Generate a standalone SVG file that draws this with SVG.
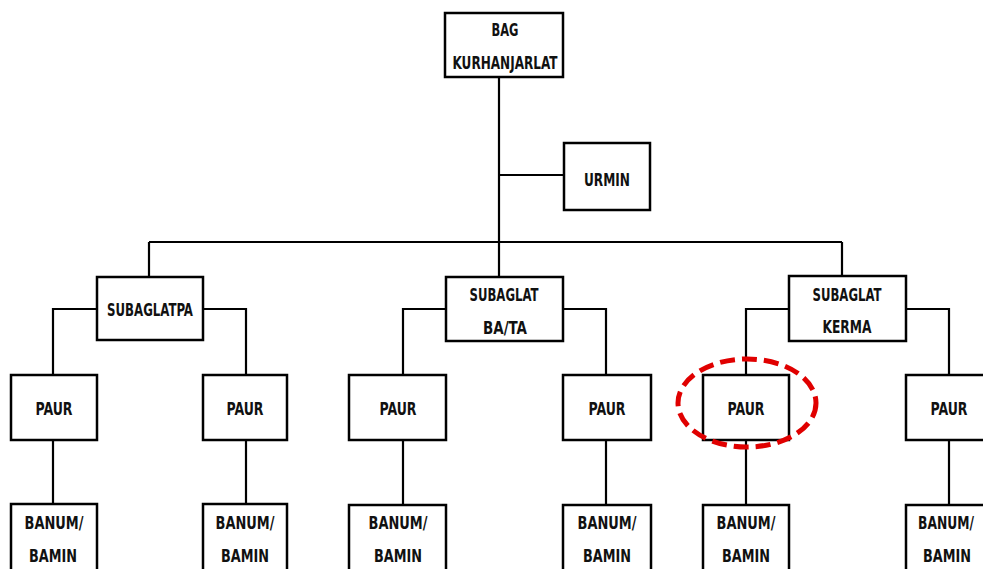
<svg xmlns="http://www.w3.org/2000/svg" width="983" height="569" viewBox="0 0 983 569">
<style>
.box{fill:#fff;stroke:#000;stroke-width:2.5}
.ln{fill:none;stroke:#000;stroke-width:2.2}
text{font-family:"Liberation Sans Narrow","DejaVu Sans Condensed","Liberation Sans",sans-serif;font-weight:bold;font-size:17.5px;fill:#111;text-anchor:middle}
.hl{fill:none;stroke:#e00000;stroke-width:5;stroke-dasharray:15 7}
</style>
<rect width="983" height="569" fill="#fff"/>
<g id="connectors">
<path class="ln" d="M499 77V242M499 175H564M149 242H842M149 242V277M499 242V277M842 242V276"/>
<path class="ln" d="M97 309H53V375M203 309H246V375M53 440V504M246 440V504"/>
<path class="ln" d="M446 309H403V375M563 309H606V375M403 440V505M606 440V505"/>
<path class="ln" d="M789 309H746V375M906 309H949V375M746 440V505M949 440V505"/>
</g>
<g id="bag"><rect class="box" x="445" y="13" width="118" height="64"/><text x="505" y="36" textLength="27" lengthAdjust="spacingAndGlyphs">BAG</text><text x="505" y="69" textLength="105" lengthAdjust="spacingAndGlyphs">KURHANJARLAT</text></g>
<g id="urmin"><rect class="box" x="564" y="143" width="86" height="67"/><text x="607" y="186" textLength="46" lengthAdjust="spacingAndGlyphs">URMIN</text></g>
<g id="subaglatpa"><rect class="box" x="97" y="277" width="106" height="63"/><text x="150" y="316" textLength="86" lengthAdjust="spacingAndGlyphs">SUBAGLATPA</text></g>
<g id="subaglat-bata"><rect class="box" x="446" y="277" width="117" height="64"/><text x="504" y="301" textLength="69" lengthAdjust="spacingAndGlyphs">SUBAGLAT</text><text x="505" y="334" textLength="44" lengthAdjust="spacingAndGlyphs">BA/TA</text></g>
<g id="subaglat-kerma"><rect class="box" x="789" y="276" width="117" height="65"/><text x="847" y="301" textLength="69" lengthAdjust="spacingAndGlyphs">SUBAGLAT</text><text x="847" y="333" textLength="49" lengthAdjust="spacingAndGlyphs">KERMA</text></g>
<g id="paur1"><rect class="box" x="11" y="375" width="86" height="65"/><text x="54" y="415" textLength="37" lengthAdjust="spacingAndGlyphs">PAUR</text></g>
<g id="paur2"><rect class="box" x="203" y="375" width="84" height="65"/><text x="245" y="415" textLength="37" lengthAdjust="spacingAndGlyphs">PAUR</text></g>
<g id="paur3"><rect class="box" x="349" y="375" width="97" height="65"/><text x="398" y="415" textLength="37" lengthAdjust="spacingAndGlyphs">PAUR</text></g>
<g id="paur4"><rect class="box" x="563" y="375" width="88" height="65"/><text x="607" y="415" textLength="37" lengthAdjust="spacingAndGlyphs">PAUR</text></g>
<g id="paur5"><rect class="box" x="703" y="375" width="86" height="65"/><text x="746" y="415" textLength="37" lengthAdjust="spacingAndGlyphs">PAUR</text></g>
<g id="paur6"><rect class="box" x="906" y="375" width="86" height="65"/><text x="949" y="415" textLength="37" lengthAdjust="spacingAndGlyphs">PAUR</text></g>
<g id="banum1"><rect class="box" x="11" y="504" width="86" height="80"/><text x="54" y="529" textLength="59" lengthAdjust="spacingAndGlyphs">BANUM/</text><text x="53" y="562" textLength="48" lengthAdjust="spacingAndGlyphs">BAMIN</text></g>
<g id="banum2"><rect class="box" x="203" y="504" width="84" height="80"/><text x="245" y="529" textLength="59" lengthAdjust="spacingAndGlyphs">BANUM/</text><text x="245" y="562" textLength="48" lengthAdjust="spacingAndGlyphs">BAMIN</text></g>
<g id="banum3"><rect class="box" x="349" y="505" width="97" height="80"/><text x="398" y="529" textLength="59" lengthAdjust="spacingAndGlyphs">BANUM/</text><text x="398" y="562" textLength="48" lengthAdjust="spacingAndGlyphs">BAMIN</text></g>
<g id="banum4"><rect class="box" x="563" y="505" width="88" height="80"/><text x="607" y="529" textLength="59" lengthAdjust="spacingAndGlyphs">BANUM/</text><text x="607" y="562" textLength="48" lengthAdjust="spacingAndGlyphs">BAMIN</text></g>
<g id="banum5"><rect class="box" x="703" y="505" width="86" height="80"/><text x="746" y="529" textLength="59" lengthAdjust="spacingAndGlyphs">BANUM/</text><text x="746" y="562" textLength="48" lengthAdjust="spacingAndGlyphs">BAMIN</text></g>
<g id="banum6"><rect class="box" x="906" y="505" width="86" height="80"/><text x="946" y="529" textLength="56" lengthAdjust="spacingAndGlyphs">BANUM/</text><text x="947" y="562" textLength="48" lengthAdjust="spacingAndGlyphs">BAMIN</text></g>
<g id="highlight"><ellipse class="hl" cx="747" cy="403" rx="69" ry="44"/></g>
</svg>
